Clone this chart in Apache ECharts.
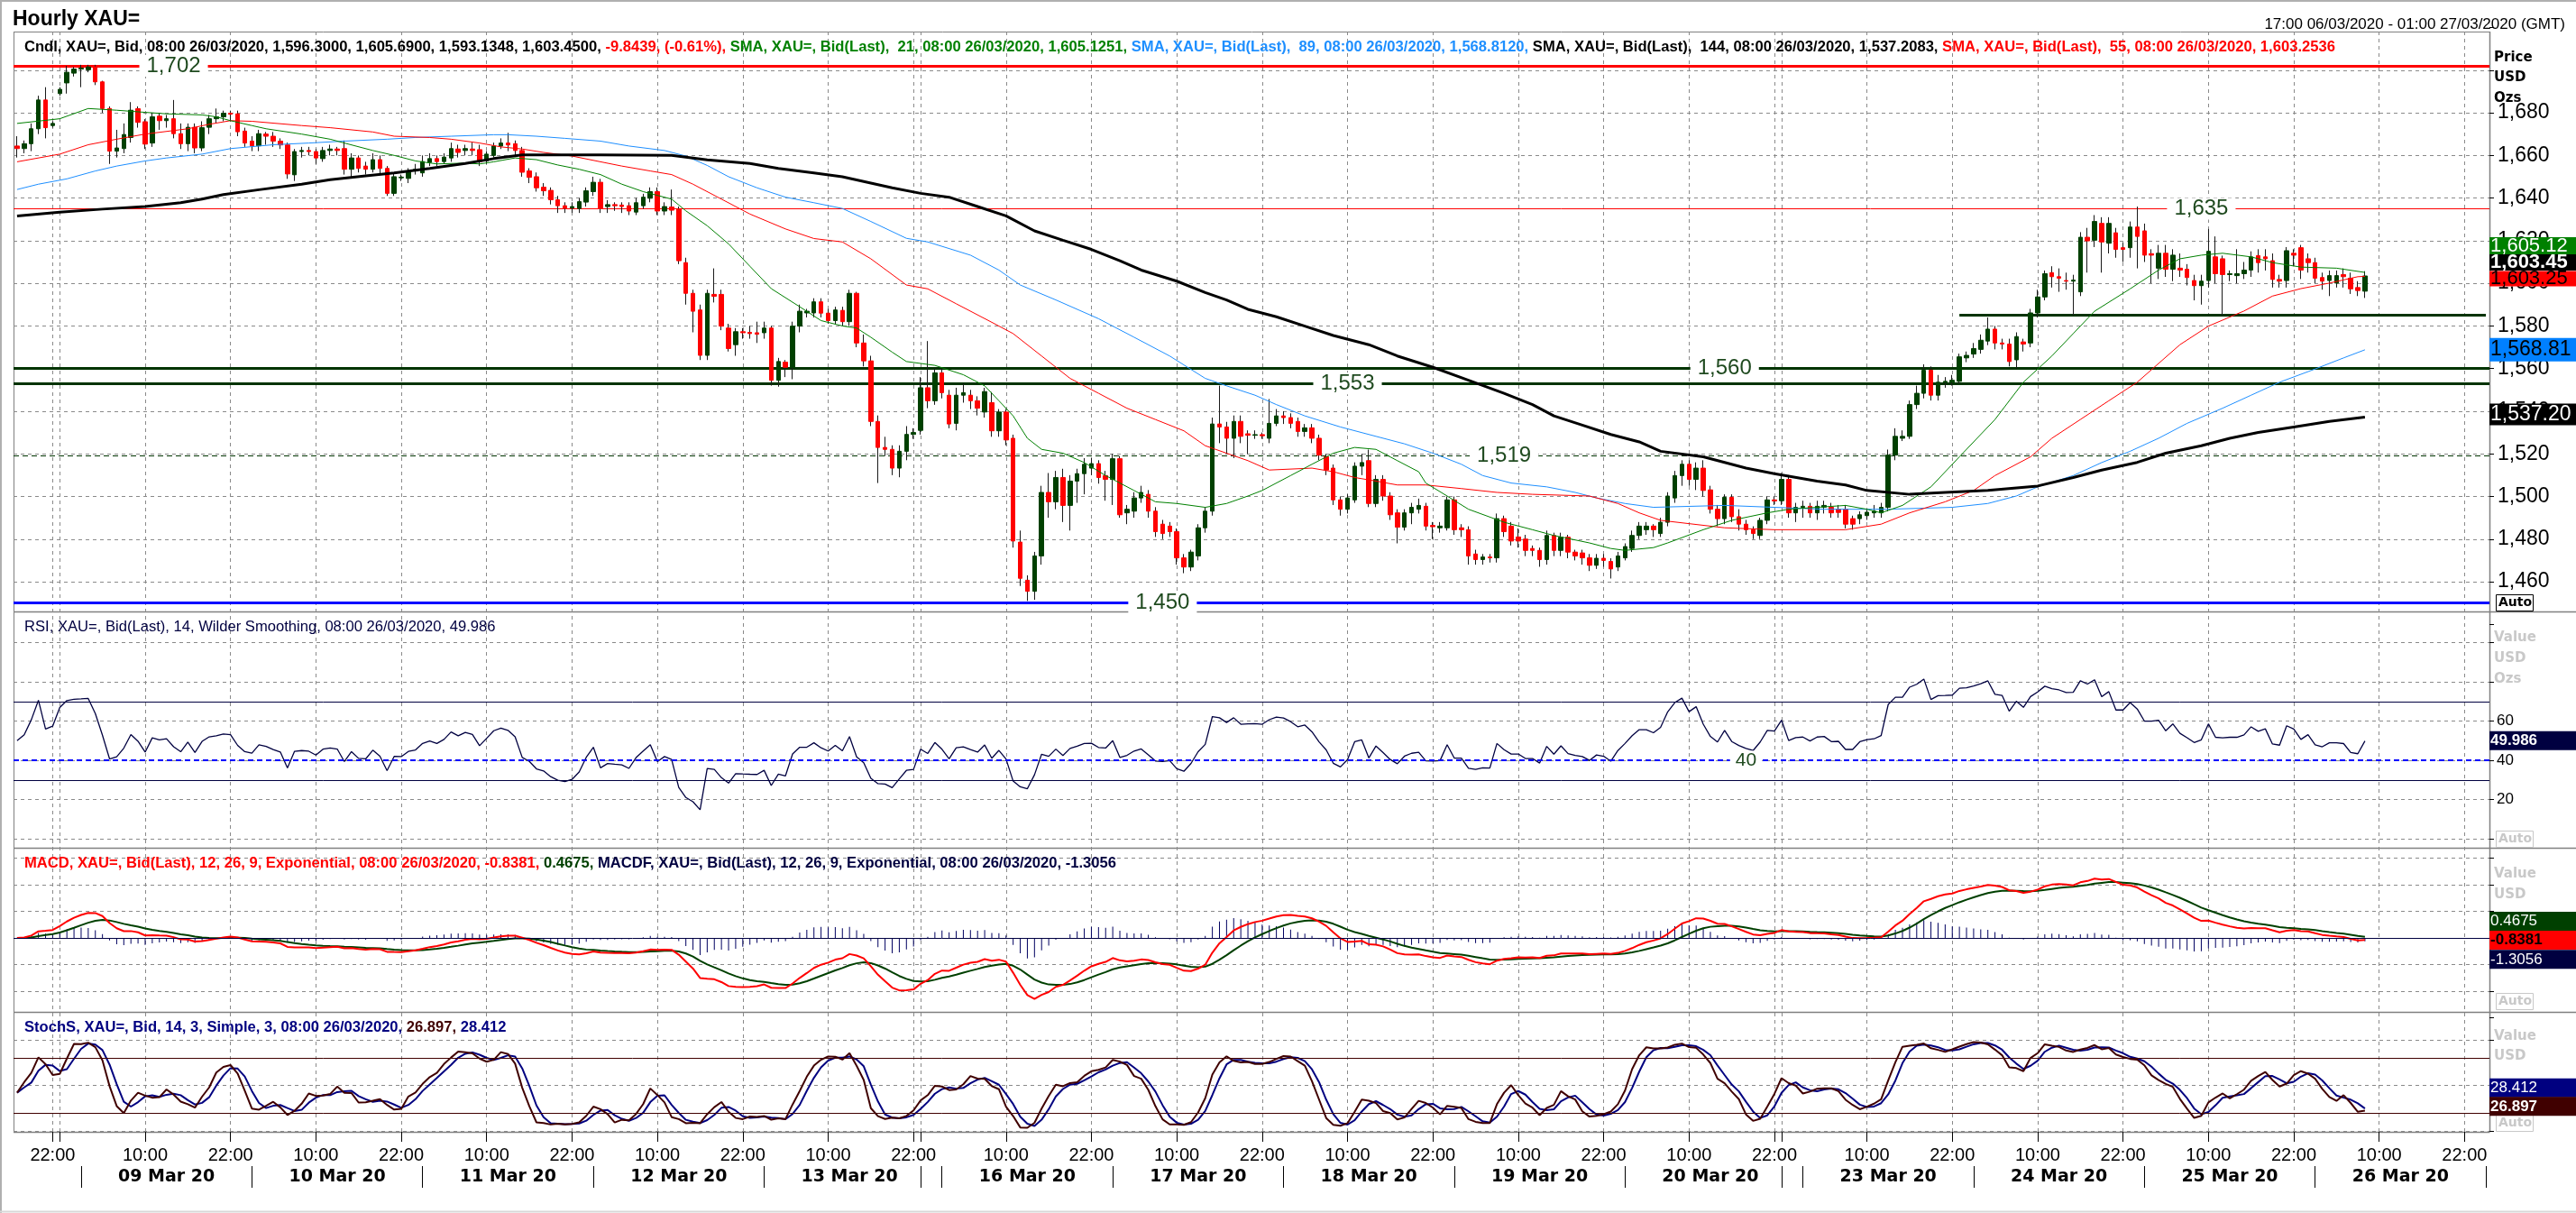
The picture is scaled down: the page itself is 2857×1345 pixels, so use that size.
<!DOCTYPE html>
<html><head><meta charset="utf-8">
<script src="https://cdn.jsdelivr.net/npm/echarts@6/dist/echarts.min.js"></script>
<style>html,body{margin:0;padding:0;background:#fff}#c{width:2857px;height:1345px}</style>
</head><body><div id="c"></div><script>
// ---------- axis categories (hourly bars, trading sessions) ----------
const sessions = [
 ['06/03',17,22],['08/03',22,23],['09/03',0,23],['10/03',0,23],['11/03',0,23],['12/03',0,23],['13/03',0,22],
 ['15/03',22,23],['16/03',0,23],['17/03',0,23],['18/03',0,23],['19/03',0,23],['20/03',0,22],
 ['22/03',22,23],['23/03',0,23],['24/03',0,23],['25/03',0,23],['26/03',0,23],['27/03',0,1]
];
const sundays = ['08/03','15/03','22/03'];
const labelDays = ['09/03','10/03','11/03','12/03','13/03','16/03','17/03','18/03','19/03','20/03','23/03','24/03','25/03','26/03'];
const sundaySeparators = ['15/03','22/03'];
const timeTickHours = [10,22];

// ---------- candle data (hourly, 17:00 06/03 -> 08:00 26/03) ----------
const opens = [1664.4,1663.2,1665.5,1672.5,1686,1674,1689,1694,1698.6,1700.5,
1700.2,1701.5,1694.5,1682,1662,1663.2,1668.4,1681.9,1675.8,1665.8,
1678.4,1676.3,1677.2,1670.2,1665.5,1673.2,1663.5,1673.2,1677.2,1678.1,
1679.8,1679.5,1671.4,1666.7,1664.5,1670,1669,1666.7,1664.9,1650.9,
1661.8,1662.3,1661.8,1658.5,1662.3,1663,1663.2,1653.5,1658.8,1655,
1653.5,1658,1653.9,1642.2,1649.5,1649.2,1652.7,1651.8,1656.7,1658.5,
1657.1,1658.8,1663,1662.3,1663,1662.7,1657.4,1660,1664.4,1665.8,
1665.5,1662.3,1652.7,1650,1645.1,1643.6,1639.2,1636.4,1635.3,1635.1,
1638.1,1643,1647.4,1636,1636.9,1636.7,1636.4,1633.4,1636.4,1639.9,
1643,1633.9,1635.8,1634.8,1609.7,1595.3,1587.5,1566.2,1594.8,1594.8,
1579,1571.2,1577.3,1577,1576.8,1576.8,1579,1554.5,1563,1560.6,
1579.9,1586.1,1586.1,1591.3,1586,1582.5,1587.3,1582,1595.3,1572,
1563.6,1535.2,1523,1522.1,1513.3,1521.2,1529.1,1531,1551,1544.9,
1558,1547.5,1534.3,1547.5,1547.5,1544.9,1539.6,1544,1530.8,1539.6,
1527.3,1478.6,1460.7,1455.5,1472.1,1501.9,1497.5,1508.9,1495.8,1507.2,
1510.7,1513.3,1515.4,1509.8,1508,1517.7,1492.3,1493.1,1499.3,1501,
1493.1,1487,1486.1,1483.5,1471.2,1466.9,1472.1,1485.3,1493.1,1534,
1532.6,1527.3,1535.2,1529.4,1528.7,1529,1527.3,1534.3,1537.8,1537,
1535.2,1530.5,1532.2,1527.3,1518.6,1513.3,1498.4,1494,1498.4,1514.2,
1516.8,1496.7,1508,1500.2,1492.3,1485.6,1492.3,1494,1495.4,1486.4,
1485.3,1485.3,1498.4,1485.3,1484.4,1473,1470.4,1471.6,1471.2,1489.6,
1486.1,1481,1480,1475.6,1474.7,1470.4,1481.7,1474.7,1480.9,1473.9,
1473.5,1471.2,1467.7,1471,1469.5,1466.9,1471.2,1475.6,1481.7,1484.4,
1486.1,1482.6,1487.9,1499.3,1509.8,1515.1,1508,1513.3,1503.1,1494,
1489.6,1499.6,1490.5,1487,1484.4,1481.7,1488.8,1498.4,1498,1508,
1492.3,1494.9,1495.4,1492.3,1495,1494.9,1494,1494,1489.6,1489.6,
1491,1492.3,1492.3,1494.9,1519.4,1527.3,1528.2,1543.1,1548.4,1559.2,
1547.5,1553.6,1553.6,1554,1565,1566.8,1569,1572.9,1578.5,1572,
1571.5,1564.1,1572.5,1572,1586.1,1593.6,1605,1603.1,1601.3,1601,
1596,1621.6,1620.2,1628.1,1618.8,1623.7,1616.7,1616.7,1626.4,1624.6,
1613.9,1607.1,1614.1,1606.6,1607.1,1606.6,1601.3,1598.9,1601.3,1612.4,
1611.5,1604.1,1603.6,1604.5,1606.2,1613,1612.4,1610.6,1601.8,1601.3,
1614.1,1616.7,1611.5,1609.7,1602.7,1601.3,1600.1,1604.1,1602.4,1598,
1596.3];
const closes = [1663.2,1665.5,1672.5,1686,1673,1675,1691,1699,1700.5,1701,
1701.5,1694.5,1682,1662,1663.5,1669.8,1681.2,1675.5,1665.3,1678.1,
1676.3,1677.2,1670.2,1665.5,1673.2,1663.5,1673,1677.2,1678.1,1679.8,
1679.3,1671.1,1665.8,1664.5,1670.2,1669,1666.7,1664.9,1651.3,1661.8,
1662.3,1661.8,1658.8,1662.3,1663,1662.3,1653.5,1658.8,1653.9,1653.5,
1658,1653.9,1642.2,1650,1649.8,1652.7,1653.5,1657.1,1658.5,1657.1,
1659.2,1663.2,1661.4,1663.2,1662.3,1657.1,1660.6,1664.4,1665.8,1664.9,
1662.3,1652.1,1649.7,1644.8,1643.4,1639.2,1636.4,1635.3,1636,1638.3,
1643.4,1647.4,1635.1,1636.9,1636.4,1636,1633.9,1637.8,1640.4,1643,
1633.9,1636,1634.3,1610.6,1595.3,1586.9,1566.2,1595.3,1593.9,1579.9,
1569.4,1577.3,1576.8,1576.4,1576.1,1579,1554.5,1563.3,1560.6,1579.9,
1586.9,1586.9,1591.3,1586,1582.5,1587.5,1582,1595.3,1572,1563.6,
1535.2,1523,1522.1,1513.3,1521.2,1529.1,1530,1551,1544.9,1558,
1548.7,1534,1547.5,1548.7,1544.9,1541.4,1549.2,1530.8,1539.6,1526.5,
1479.1,1461.6,1455.5,1472.1,1501.9,1497.5,1508.9,1495.8,1507.2,1510.7,
1515.1,1515.4,1508.9,1508,1517.7,1491.4,1494,1499.3,1501.9,1493.1,
1483.5,1482.6,1483.5,1471.2,1466.9,1473.9,1485.3,1493.1,1534,1532.6,
1527.3,1535.2,1528.2,1528.7,1529,1528.5,1534.3,1537.8,1537,1534.3,
1530.5,1532.2,1527.3,1519.4,1512.4,1498.4,1494,1499.3,1514.2,1515.9,
1496.7,1508,1500.2,1491.4,1485.6,1492.3,1494.9,1495.8,1486.1,1485.8,
1486.1,1498.4,1484.4,1484.4,1472.1,1470.4,1471.6,1471.2,1489.6,1483.5,
1479.1,1479.1,1474.7,1474.7,1470.4,1481.7,1474.7,1480.9,1473.9,1472.1,
1471.2,1467.7,1471,1470,1466,1472.1,1476.5,1481.7,1486.1,1486.1,
1484.4,1487.9,1500.2,1509.8,1515.1,1508,1513.3,1502.8,1494,1489.6,
1499.6,1490.5,1487,1484.4,1482.6,1488.8,1498.4,1497.9,1508,1492.3,
1494.9,1495.4,1492.3,1495.4,1495.8,1492.3,1492.5,1487,1487,1491.4,
1492.6,1493.1,1494.9,1519.4,1528.2,1528.2,1543.1,1548.4,1559.2,1547.5,
1553.6,1554,1554.5,1565.5,1566.2,1569.4,1573.3,1578.5,1572,1571.5,
1563.3,1575,1571.5,1586.1,1593.6,1604.5,1603.1,1602.4,1601,1601.5,
1621.6,1619.9,1629,1619.4,1628.1,1615.9,1615.9,1626.4,1622,1613.2,
1613.2,1614.1,1606.6,1613.2,1606.2,1602.7,1598.9,1601,1615,1604.5,
1604.1,1604.5,1604.5,1606.2,1612.4,1609.7,1611.5,1601.8,1601,1615.3,
1613.2,1606.2,1609.7,1602.4,1601,1603.6,1603.6,1603.1,1597.4,1596.6,
1603.45];
const lows = [1659,1661,1662,1670,1668,1673,1688,1689,1697,1692,
1699,1693,1680,1656,1659,1661,1666,1673,1663,1664,
1672,1673,1668,1663,1662,1661,1662,1670,1675,1676,
1676,1669,1664,1662,1662,1665,1664,1663,1649,1648,
1659,1660,1656,1657,1660,1660,1651,1650,1652,1651,
1652,1651,1641,1641,1648,1647,1651,1650,1655,1655,
1656,1657,1659,1660,1660,1655,1656,1659,1663,1662,
1660,1650,1647,1643,1641,1637,1633,1633,1633,1633,
1636,1641,1633,1633,1634,1633,1632,1632,1635,1638,
1632,1632,1632,1609,1590,1577,1564,1564,1591,1578,
1568,1566,1574,1574,1572,1574,1552,1551.5,1556,1555,
1577,1584,1584,1584,1581,1581,1580,1580,1570,1561,
1533,1506.3,1519,1510,1509,1517,1527,1529,1541.4,1543,
1546,1532,1531,1544,1541,1538,1537,1528,1528,1524,
1476,1458,1451,1451.5,1468,1490,1494,1488,1484,1497,
1501,1510,1506,1498,1496,1490,1487,1490,1497,1490,
1481,1480,1481,1468,1464,1465,1470,1483,1491,1525,
1520,1518,1525,1520,1527,1527,1525,1533,1534,1532,
1528,1528,1525,1517,1510,1496,1491,1492,1497,1510,
1495,1495,1498,1489,1478,1484,1487,1492,1484,1480,
1483,1484,1482,1481,1468,1468,1468,1469,1469,1481,
1477,1476,1472,1472,1467,1468,1472,1472,1471,1470,
1468,1465,1466,1467,1461.5,1465,1470,1474,1480,1482,
1481,1481,1486,1497,1505,1505,1503,1500,1492,1486,
1487,1488,1484,1482,1480,1480,1487,1496,1496,1490,
1488,1490,1490,1489,1492,1490,1490,1485,1484.4,1487,
1489,1490,1490,1493,1517,1526,1527,1541,1546,1545,
1545,1551,1552,1553,1563,1565,1567,1571,1569,1569,
1561,1560,1568,1570,1584,1592,1598,1596,1597,1585,
1594,1605,1617,1605,1614,1612,1610,1612,1607,1610,
1600,1602,1603,1601,1603,1599,1592,1590,1598,1600,
1585,1601,1600,1602,1603,1605,1606,1598,1598,1598,
1608,1602,1605,1600,1597,1594,1598,1598,1595,1594,
1593.13];
const highs = [1669,1667,1675,1688,1692,1676,1692,1702,1701.5,1702.5,
1702.5,1702.5,1695,1683,1672,1675,1685,1683,1677,1680,
1680,1679,1686,1675,1675,1675,1676,1679,1682,1681,
1681,1681,1673,1669,1672,1671,1671,1668,1666,1663,
1664,1664,1663,1664,1665,1664,1667,1661,1660,1657,
1661,1660,1655,1652,1651,1654,1656,1660,1661,1660,
1661,1666,1665,1665,1666,1665,1662,1666,1668,1670.6,
1667,1664,1654,1652,1647,1645,1641,1638,1638,1640,
1645,1650,1649,1639,1638,1638,1638,1640,1642,1645,
1645,1638,1644,1636,1612,1597,1590,1597,1607,1597,
1581,1579,1579,1580,1582,1582,1580,1565,1564,1582,
1590,1588,1593,1593,1588,1589,1589,1597,1596,1576,
1566,1538,1528,1524,1524,1533,1532,1556,1572.9,1560,
1560,1550,1551,1553,1550,1547,1551,1549,1541,1541,
1529,1484,1463,1474,1505,1511,1512,1513,1510,1513,
1518,1518,1517,1512,1520,1519,1496,1502,1505,1503,
1495,1489,1488,1485,1473,1475,1487,1495,1537,1552,
1535,1538,1538,1531,1531,1530,1545.7,1541,1540,1539,
1537,1534,1534,1529,1520,1515,1500,1501,1516,1520,
1522,1510,1510,1502,1494,1494,1497,1499,1497,1488,
1488,1500,1500,1487,1486,1475,1473,1473,1492,1491,
1488,1485,1482,1477,1476,1484,1483,1483,1482,1475,
1475,1473,1473,1473,1471,1474,1478,1484,1488,1488,
1487,1490,1502,1512,1517,1517,1516,1517,1505,1496,
1501,1501,1494,1489,1486,1490,1500,1500,1511,1510,
1497,1498,1497,1498,1498,1497,1496,1496,1491,1493,
1494,1496,1497,1522,1532,1531,1545,1552,1562,1561,
1557,1556,1557,1567,1568,1572,1576,1584,1580,1574,
1574,1577,1574,1588,1597,1606,1608,1607,1605,1604,
1624,1626,1632,1631,1631,1626,1619,1629,1636,1628,
1616,1618,1618,1616,1614,1609,1604,1604,1625.5,1622,
1613,1606,1616,1610,1615,1616,1616,1614,1604,1617,
1616,1618,1614,1612,1605,1606,1606,1607,1605,1601,
1605.69];

// ---------- moving averages: [bar index, value] ----------
const sma21 = [[0,1675],[6,1677.2],[10,1682],[14,1681.2],[18,1680.2],[21,1679.5],[26,1679],[28,1678.1],[30,1676.3],[33,1674],[35,1672.5],[40,1670],[44,1667.6],[46,1665.8],[50,1662.3],[53,1660],[56,1657.4],[59,1656],[63,1656.4],[65,1656],[67,1657],[70,1658.8],[73,1658],[76,1655.5],[79,1653.5],[82,1651],[85,1646.5],[88,1643],[92,1639.5],[94,1634],[97,1627],[100,1618.5],[103,1608],[106,1597.5],[110,1589],[113,1582.5],[116,1580],[118,1579],[120,1574.7],[123,1567.7],[125,1563.3],[129,1561.5],[133,1557.1],[136,1551.9],[138,1544.9],[140,1537.8],[142,1527.3],[144,1522.1],[147,1520.3],[150,1515.9],[153,1509.8],[157,1502.8],[160,1497.5],[163,1496.7],[167,1494.9],[170,1496.7],[173,1500.2],[175,1502.8],[179,1509.8],[182,1515.1],[185,1520.3],[188,1523],[191,1522.1],[194,1516.8],[197,1511.6],[198,1506.3],[201,1500.2],[204,1494],[209,1487.9],[213,1484.4],[216,1481.7],[221,1478.2],[224,1475.6],[226,1474.7],[230,1476],[232,1478.2],[237,1484.4],[241,1488.8],[246,1492.3],[249,1494],[253,1494.9],[257,1495.8],[260,1494],[262,1492.3],[265,1495.8],[269,1504.5],[273,1518.6],[278,1536.1],[282,1553.6],[286,1565.9],[289,1576.4],[292,1586.9],[297,1597.4],[301,1606.2],[304,1611.5],[307,1613.2],[310,1614.1],[314,1612.4],[317,1609.7],[321,1607.6],[326,1607.1],[330,1605.1]];
const sma55 = [[0,1657],[6,1660.6],[10,1665],[14,1667.6],[18,1670],[24,1672.5],[27,1674.6],[30,1676.3],[33,1676],[40,1674],[44,1673],[50,1671],[53,1669],[58,1668.4],[61,1667.6],[65,1665.8],[68,1664],[71,1663],[74,1661.4],[78,1659.7],[82,1657],[85,1655],[89,1652.7],[92,1651],[95,1646.5],[99,1639.5],[103,1632.5],[108,1625.5],[112,1621],[116,1619.4],[120,1611.5],[125,1599.2],[128,1597.4],[132,1590.4],[137,1581.7],[140,1576.4],[144,1565.9],[148,1555.4],[152,1548.4],[156,1541.4],[160,1536.1],[164,1530.8],[167,1523.8],[170,1520.3],[173,1516.8],[176,1512.4],[182,1513.3],[185,1511.6],[188,1508.9],[191,1507.2],[194,1505.4],[198,1505.4],[203,1503.7],[208,1501.9],[213,1501],[221,1500.2],[225,1496.7],[228,1492.3],[231,1488.8],[240,1485.3],[247,1484.4],[257,1484.4],[262,1487],[266,1492.3],[271,1497.5],[275,1502.8],[278,1509.8],[283,1518.6],[286,1527.3],[290,1536.1],[294,1544.9],[298,1553.6],[301,1562.4],[304,1571.2],[308,1579.9],[313,1587],[317,1594],[321,1597.5],[325,1600.1],[329,1603.1],[330,1603.25]];
const sma89 = [[0,1644],[3,1646.5],[7,1649],[11,1652.7],[14,1655],[18,1657.4],[21,1658.8],[26,1660.6],[30,1663.2],[36,1665],[41,1665.8],[46,1666.7],[52,1667.6],[56,1668.4],[61,1669],[67,1669.7],[69,1669.7],[73,1669],[77,1668],[82,1666.7],[86,1664.4],[91,1662.3],[94,1659.7],[97,1655.3],[100,1650],[104,1644.8],[108,1640.4],[112,1637.8],[116,1635.1],[120,1629],[125,1621.1],[128,1619.4],[134,1613.2],[138,1606.2],[141,1599.2],[146,1592.2],[152,1583.4],[157,1574.7],[162,1565.9],[167,1555.4],[170,1551.9],[174,1547.5],[177,1543.1],[181,1537.8],[186,1532.6],[191,1528.2],[195,1524.7],[199,1520.3],[203,1515.1],[206,1509.8],[210,1506.3],[215,1504.5],[219,1501.9],[222,1499.3],[226,1496.7],[230,1494.9],[240,1495.8],[247,1494.9],[254,1494],[263,1494],[272,1494.9],[277,1496.7],[281,1500.2],[284,1504.5],[289,1509.8],[293,1515.9],[297,1521.2],[301,1527.3],[305,1534.3],[310,1541.4],[314,1547.5],[318,1553.6],[323,1559.8],[327,1565],[330,1568.81]];
const sma144 = [[0,1631.6],[6,1633.4],[12,1634.8],[18,1636],[23,1637.8],[26,1639.5],[29,1641.6],[34,1643.9],[40,1646.5],[44,1648.6],[49,1650.4],[53,1651.8],[58,1653.9],[63,1656.2],[67,1658.5],[71,1660.2],[82,1660.2],[92,1660],[97,1657.9],[103,1656.2],[107,1653.9],[112,1651.8],[116,1650],[123,1644.8],[127,1642.2],[131,1640.4],[135,1636],[139,1631.6],[143,1624.6],[147,1620.2],[151,1615.9],[155,1610.6],[158,1606.2],[163,1601],[167,1595.7],[170,1592.2],[173,1587.8],[177,1584.3],[181,1579.9],[185,1575.5],[190,1571.2],[194,1565.9],[199,1560.6],[204,1554.5],[209,1548.4],[213,1543.1],[216,1537.8],[220,1533.5],[224,1529.1],[228,1525.6],[231,1521.2],[237,1518.6],[243,1513.3],[247,1510.7],[253,1507.2],[257,1505.4],[260,1502.8],[266,1501],[271,1501.9],[277,1502.8],[284,1504.9],[289,1508.9],[293,1512.4],[298,1516],[302,1520.3],[307,1523.8],[311,1527.3],[315,1530],[320,1532.6],[325,1535.2],[330,1537.2]];

// ---------- horizontal levels ----------
const levelRed = [1702, 1635];
const levelGreen = [1560, 1553];
const levelDashed = [1519];
const levelBlue = [1450];
const supportLevel = 1585;
const levelLabels = ['1,702','1,635','1,560','1,553','1,519','1,450'];

// ---------- last values shown in the axis boxes ----------
const lastSma21 = 1605.12, lastClose = 1603.45, lastSma55 = 1603.25, lastSma89 = 1568.81, lastSma144 = 1537.20;
const lastRsi = 49.986, lastSignal = 0.4675, lastMacd = -0.8381, lastHist = -1.3056, lastStochD = 28.412, lastStochK = 26.897;
const rsiLevels = [70, 30], rsiMid = 40, stochLevels = [80, 20];
const rsiSeed = {gain: 1.4, loss: 1.4}; // RSI state at the left edge (~50 in the picture)

// ---------- build categories ----------
const cats = [], catDay = [], catHour = [];
sessions.forEach(([d,h0,h1]) => { for (let h=h0; h<=h1; h++){ cats.push(d+' '+String(h).padStart(2,'0')+':00'); catDay.push(d); catHour.push(h);} });
const isTimeTick = i => timeTickHours.includes(catHour[i]);
const isTimeLbl = i => isTimeTick(i) && !sundays.includes(catDay[i]);
const isSep = i => (catHour[i]===1) || (catHour[i]===22 && sundaySeparators.includes(catDay[i]));
const isDateLbl = i => catHour[i]===13 && labelDays.includes(catDay[i]);

// ---------- indicators from the candles ----------
function ema(src,n){const k=2/(n+1);const out=[];let e=src[0];src.forEach((v,i)=>{e=i===0?v:v*k+e*(1-k);out.push(e);});return out;}
const e12=ema(closes,12), e26=ema(closes,26);
const macd = closes.map((_,i)=>e12[i]-e26[i]);
const signal = ema(macd,9);
const hist = macd.map((v,i)=>v-signal[i]);
let ag=rsiSeed.gain, al=rsiSeed.loss; const rsi=[100-100/(1+ag/al)];
for(let i=1;i<closes.length;i++){const d=closes[i]-closes[i-1];ag=(ag*13+Math.max(d,0))/14;al=(al*13+Math.max(-d,0))/14;rsi.push(100-100/(1+ag/al));}
const rawK = closes.map((c,i)=>{const s=Math.max(0,i-13);const hh=Math.max(...highs.slice(s,i+1));const ll=Math.min(...lows.slice(s,i+1));return hh===ll?50:100*(c-ll)/(hh-ll);});
const smaA=(a,n)=>a.map((_,i)=>{const s=Math.max(0,i-n+1);const w=a.slice(s,i+1);return w.reduce((x,y)=>x+y,0)/w.length;});
const stochK = smaA(rawK,3), stochD = smaA(stochK,3);

// wicks (full range) and bodies (open/close range) are drawn as two candlestick layers
const wickData = opens.map((o,i)=>[o, closes[i], lows[i], highs[i]]);
const bodyData = opens.map((o,i)=>[o, closes[i], Math.min(o,closes[i]), Math.max(o,closes[i])]);
const fmt = v => v.toLocaleString('en-US');
const fmt2 = v => v.toLocaleString('en-US',{minimumFractionDigits:2,maximumFractionDigits:2});

const FONT = '"Liberation Sans", Arial, sans-serif';
const BOLDF = '"DejaVu Sans", Verdana, sans-serif';
const LFS = 16.6;
const GRID_L = 15, GRID_R = 96;
const lastCat = cats[cats.length-1];
const DG = '#1f4a1f';
const gridDash = {color:'#8a8a8a', type:[4,4], width:1};

function box(value, text, bg, fg, bold, fs, dy, h){
  return {coord:[lastCat, value], symbol:'rect', symbolSize:[96, h], symbolOffset:[52, dy],
    itemStyle:{color:bg}, label:{show:true, position:'insideLeft', distance:1, formatter:text, color:fg,
    fontFamily:FONT, fontSize:fs, fontWeight:bold?'bold':'normal'}};
}
function lvlLabel(idx, value, text){
  return {coord:[cats[idx], value], symbol:'rect', symbolSize:[1,1], itemStyle:{color:'rgba(0,0,0,0)'},
    label:{show:true, position:'inside', formatter:text, color:DG, fontFamily:FONT, fontSize:24,
    backgroundColor:'#fff', padding:[0,8]}};
}
const hiddenX = gi => ({type:'category', gridIndex:gi, data:cats, boundaryGap:true, show:false});
const rs = c => ({color:c, fontFamily:FONT, fontSize:LFS});

const option = {
  animation:false,
  backgroundColor:'#fff',
  title:[
    {text:'Hourly XAU=', left:9, top:5, textStyle:{fontFamily:FONT, fontSize:23, fontWeight:'bold', color:'#000'}},
    {text:'17:00 06/03/2020 - 01:00 27/03/2020 (GMT)', right:7, top:14, textStyle:{fontFamily:FONT, fontSize:17, fontWeight:'normal', color:'#000'}},
    {text:'{k|Cndl, XAU=, Bid, 08:00 26/03/2020, 1,596.3000, 1,605.6900, 1,593.1348, 1,603.4500, }{r|-9.8439, (-0.61%), }{g|SMA, XAU=, Bid(Last),  21, 08:00 26/03/2020, 1,605.1251, }{b|SMA, XAU=, Bid(Last),  89, 08:00 26/03/2020, 1,568.8120, }{k|SMA, XAU=, Bid(Last),  144, 08:00 26/03/2020, 1,537.2083, }{r|SMA, XAU=, Bid(Last),  55, 08:00 26/03/2020, 1,603.2536}',
     left:22, top:39, z:20,
     textStyle:{fontFamily:FONT, fontSize:LFS, rich:{k:rs('#000'),r:rs('#ff0000'),g:rs('#008000'),b:rs('#1e8fff')}}},
    {text:'RSI, XAU=, Bid(Last), 14, Wilder Smoothing, 08:00 26/03/2020, 49.986', left:22, top:682, textStyle:{fontFamily:FONT, fontSize:LFS, fontWeight:'normal', color:'#000040'}},
    {text:'{r|MACD, XAU=, Bid(Last), 12, 26, 9, Exponential, 08:00 26/03/2020, -0.8381, }{g|0.4675, }{n|MACDF, XAU=, Bid(Last), 12, 26, 9, Exponential, 08:00 26/03/2020, -1.3056}', left:22, top:944,
     textStyle:{fontFamily:FONT, fontSize:LFS, rich:{r:rs('#ff0000'),g:rs('#004000'),n:rs('#000040')}}},
    {text:'{n|StochS, XAU=, Bid, 14, 3, Simple, 3, 08:00 26/03/2020, }{m|26.897, }{n|28.412}', left:22, top:1126,
     textStyle:{fontFamily:FONT, fontSize:LFS, rich:{n:rs('#000080'),m:rs('#400000')}}}
  ],
  grid:[
    {left:GRID_L, right:GRID_R, top:30.5, height:661.8},
    {left:GRID_L, right:GRID_R, top:712.5, height:217.5},
    {left:GRID_L, right:GRID_R, top:951.5, height:177},
    {left:GRID_L, right:GRID_R, top:1153, height:101},
    {left:GRID_L, right:GRID_R, top:35, height:1220}
  ],
  xAxis:[
    hiddenX(0), hiddenX(1), hiddenX(2), hiddenX(3),
    {type:'category', gridIndex:4, data:cats, boundaryGap:true, position:'bottom',
     axisLine:{show:false},
     axisTick:{show:true, alignWithLabel:true, length:11, interval:(i)=>isTimeTick(i), lineStyle:{color:'#000'}},
     axisLabel:{show:true, interval:(i)=>isTimeLbl(i), formatter:v=>v.slice(6), color:'#000', fontFamily:FONT, fontSize:20, margin:16},
     splitLine:{show:true, alignWithLabel:true, interval:(i)=>isTimeTick(i), lineStyle:gridDash}},
    {type:'category', gridIndex:4, data:cats, boundaryGap:true, position:'bottom', offset:38,
     axisLine:{show:false},
     axisTick:{show:true, alignWithLabel:true, length:24, interval:(i)=>isSep(i), lineStyle:{color:'#000'}},
     axisLabel:{show:true, interval:(i)=>isDateLbl(i), formatter:v=>v.slice(0,2)+' Mar 20', color:'#000', fontFamily:BOLDF, fontSize:19, fontWeight:'bold', margin:3},
     splitLine:{show:false}}
  ],
  yAxis:[
    {type:'value', gridIndex:0, position:'right', min:1440, max:1720, interval:20,
     axisLine:{show:false}, axisTick:{show:true, length:5, lineStyle:{color:'#000'}},
     axisLabel:{color:'#000', fontFamily:FONT, fontSize:23, margin:9, formatter:v=>(v>=1460&&v<=1680)?fmt(v):''},
     splitLine:{show:true, showMinLine:false, showMaxLine:false, lineStyle:gridDash}},
    {type:'value', gridIndex:1, position:'right', min:0, max:100, interval:20,
     axisLine:{show:false}, axisTick:{show:true, length:5, lineStyle:{color:'#000'}},
     axisLabel:{color:'#000', fontFamily:FONT, fontSize:17, margin:8, formatter:v=>(v>=20&&v<=60)?String(v):''},
     splitLine:{show:true, lineStyle:gridDash}},
    {type:'value', gridIndex:2, position:'right', min:-30, max:30, interval:10,
     axisLine:{show:false}, axisTick:{show:true, length:5, lineStyle:{color:'#000'}},
     axisLabel:{show:false},
     splitLine:{show:true, showMinLine:false, lineStyle:gridDash}},
    {type:'value', gridIndex:3, position:'right', min:0, max:100, interval:50,
     axisLine:{show:false}, axisTick:{show:true, length:5, lineStyle:{color:'#000'}},
     axisLabel:{show:false},
     splitLine:{show:true, lineStyle:gridDash}},
    {type:'value', gridIndex:4, show:false, min:0, max:1}
  ],
  series:[
    {name:'Wicks', type:'candlestick', xAxisIndex:0, yAxisIndex:0, data:wickData, barWidth:1, z:2,
     itemStyle:{color:'#1a1a1a', color0:'#1a1a1a', borderColor:'#1a1a1a', borderColor0:'#1a1a1a', borderWidth:1},
     markLine:{symbol:'none', silent:true, label:{show:false}, z:1,
       data:[
         {yAxis:levelRed[0], lineStyle:{color:'#ff0000', width:3, type:'solid'}},
         {yAxis:levelRed[1], lineStyle:{color:'#ff0000', width:1, type:'solid'}},
         {yAxis:levelGreen[0], lineStyle:{color:'#003300', width:3, type:'solid'}},
         {yAxis:levelGreen[1], lineStyle:{color:'#003300', width:3, type:'solid'}},
         {yAxis:levelDashed[0], lineStyle:{color:'#003300', width:1, type:[6,4]}},
         {yAxis:levelBlue[0], lineStyle:{color:'#0000ff', width:3, type:'solid'}},
         [{coord:[cats[273], supportLevel], lineStyle:{color:'#003300', width:3, type:'solid'}}, {coord:[lastCat, supportLevel]}]
       ]}},
    {name:'Cndl', type:'candlestick', xAxisIndex:0, yAxisIndex:0, data:bodyData, barWidth:5, z:2,
     itemStyle:{color:'#004000', color0:'#ff0000', borderColor:'#004000', borderColor0:'#ff0000', borderWidth:1},
     markPoint:{silent:true, z:10, data:[
       lvlLabel(22, levelRed[0], levelLabels[0]),
       lvlLabel(307, levelRed[1], levelLabels[1]),
       lvlLabel(240, levelGreen[0], levelLabels[2]),
       lvlLabel(187, levelGreen[1], levelLabels[3]),
       lvlLabel(209, levelDashed[0], levelLabels[4]),
       lvlLabel(161, levelBlue[0], levelLabels[5]),
       box(lastClose, fmt2(lastClose), '#000', '#fff', true, 22, -15, 18)
     ]}},
    {name:'SMA89', type:'line', xAxisIndex:0, yAxisIndex:0, data:sma89, showSymbol:false, z:3, lineStyle:{color:'#1e8fff', width:1},
     markPoint:{silent:true, z:10, data:[box(lastSma89, fmt2(lastSma89), '#0080ff', '#000', false, 23, 0, 26)]}},
    {name:'SMA55', type:'line', xAxisIndex:0, yAxisIndex:0, data:sma55, showSymbol:false, z:3, lineStyle:{color:'#ff0000', width:1},
     markPoint:{silent:true, z:12, data:[box(lastSma55, fmt2(lastSma55), '#ff0000', '#000', false, 22, 2.5, 17)]}},
    {name:'SMA21', type:'line', xAxisIndex:0, yAxisIndex:0, data:sma21, showSymbol:false, z:3, lineStyle:{color:'#008000', width:1},
     markPoint:{silent:true, z:10, data:[box(lastSma21, fmt2(lastSma21), '#008000', '#fff', false, 22, -29.5, 19)]}},
    {name:'SMA144', type:'line', xAxisIndex:0, yAxisIndex:0, data:sma144, showSymbol:false, z:4, lineStyle:{color:'#000', width:3},
     markPoint:{silent:true, z:10, data:[box(lastSma144, fmt2(lastSma144), '#000', '#fff', false, 23, -3, 24)]}},
    {name:'RSI', type:'line', xAxisIndex:1, yAxisIndex:1, data:rsi, showSymbol:false, lineStyle:{color:'#000040', width:1.3},
     markLine:{symbol:'none', silent:true, label:{show:false}, data:[
       {yAxis:rsiLevels[0], lineStyle:{color:'#000040', width:1, type:'solid'}},
       {yAxis:rsiLevels[1], lineStyle:{color:'#000040', width:1, type:'solid'}},
       {yAxis:rsiMid, lineStyle:{color:'#0000ff', width:2, type:[6,4]}}]},
     markPoint:{silent:true, data:[
       {coord:[cats[243], rsiMid], symbol:'rect', symbolSize:[1,1], itemStyle:{color:'rgba(0,0,0,0)'}, label:{show:true, position:'inside', formatter:String(rsiMid), color:DG, fontFamily:FONT, fontSize:21, backgroundColor:'#fff', padding:[0,6]}},
       box(lastRsi, '49.986', '#000040', '#fff', true, 17, 0, 21)]}},
    {name:'MACDF', type:'bar', xAxisIndex:2, yAxisIndex:2, data:hist, barWidth:1, itemStyle:{color:'#000060'},
     markLine:{symbol:'none', silent:true, label:{show:false}, data:[{yAxis:0, lineStyle:{color:'#000040', width:1, type:'solid'}}]},
     markPoint:{silent:true, data:[box(lastHist, '-1.3056', '#000040', '#fff', false, 17, 20, 21)]}},
    {name:'Signal', type:'line', xAxisIndex:2, yAxisIndex:2, data:signal, showSymbol:false, lineStyle:{color:'#004000', width:2},
     markPoint:{silent:true, data:[box(lastSignal, '0.4675', '#004000', '#fff', false, 17, -17, 21)]}},
    {name:'MACD', type:'line', xAxisIndex:2, yAxisIndex:2, data:macd, showSymbol:false, lineStyle:{color:'#ff0000', width:2},
     markPoint:{silent:true, data:[box(lastMacd, '-0.8381', '#ff0000', '#000', true, 17, 0, 21)]}},
    {name:'StochD', type:'line', xAxisIndex:3, yAxisIndex:3, data:stochD, showSymbol:false, clip:false, lineStyle:{color:'#000080', width:2},
     markLine:{symbol:'none', silent:true, label:{show:false}, data:[
       {yAxis:stochLevels[0], lineStyle:{color:'#400000', width:1, type:'solid'}},
       {yAxis:stochLevels[1], lineStyle:{color:'#400000', width:1, type:'solid'}}]},
     markPoint:{silent:true, data:[box(lastStochD, '28.412', '#000080', '#fff', false, 17, -19, 21)]}},
    {name:'StochK', type:'line', xAxisIndex:3, yAxisIndex:3, data:stochK, showSymbol:false, clip:false, lineStyle:{color:'#400000', width:2},
     markPoint:{silent:true, data:[box(lastStochK, '26.897', '#400000', '#fff', true, 17, 0, 21)]}}
  ],
  graphic:[
    {type:'line', shape:{x1:0,y1:1,x2:2857,y2:1}, style:{stroke:'#b0b0b0', lineWidth:2}, silent:true},
    {type:'line', shape:{x1:15.5,y1:35.5,x2:2761.5,y2:35.5}, style:{stroke:'#808080', lineWidth:1}, silent:true},
    {type:'line', shape:{x1:15.5,y1:35,x2:15.5,y2:1255}, style:{stroke:'#808080', lineWidth:1}, silent:true},
    {type:'line', shape:{x1:2761.5,y1:35,x2:2761.5,y2:1255}, style:{stroke:'#808080', lineWidth:1.5}, silent:true},
    {type:'line', shape:{x1:15,y1:678.5,x2:2857,y2:678.5}, style:{stroke:'#808080', lineWidth:1.5}, silent:true},
    {type:'line', shape:{x1:15,y1:940.5,x2:2857,y2:940.5}, style:{stroke:'#808080', lineWidth:1.5}, silent:true},
    {type:'line', shape:{x1:15,y1:1122.5,x2:2857,y2:1122.5}, style:{stroke:'#808080', lineWidth:1.5}, silent:true},
    {type:'line', shape:{x1:15,y1:1255.5,x2:2761.5,y2:1255.5}, style:{stroke:'#808080', lineWidth:1.5}, silent:true},
    {type:'line', shape:{x1:1,y1:0,x2:1,y2:1345}, style:{stroke:'#b0b0b0', lineWidth:2}, silent:true},
    {type:'line', shape:{x1:0,y1:1343.5,x2:2857,y2:1343.5}, style:{stroke:'#d8d8d8', lineWidth:2}, silent:true},
    {type:'text', x:2766, y:57, style:{text:'Price', font:'bold 15px '+BOLDF, fill:'#000'}, silent:true},
    {type:'text', x:2766, y:79, style:{text:'USD', font:'bold 15px '+BOLDF, fill:'#000'}, silent:true},
    {type:'text', x:2766, y:102, style:{text:'Ozs', font:'bold 15px '+BOLDF, fill:'#000'}, silent:true},
    {type:'rect', shape:{x:2768.5,y:659.5,width:41,height:18}, style:{fill:'#fff', stroke:'#000', lineWidth:1}, silent:true},
    {type:'text', x:2771, y:661, style:{text:'Auto', font:'bold 14px '+BOLDF, fill:'#000'}, silent:true},
    {type:'text', x:2766, y:700, style:{text:'Value', font:'bold 15px '+BOLDF, fill:'#c8c8c8'}, silent:true},
    {type:'text', x:2766, y:723, style:{text:'USD', font:'bold 15px '+BOLDF, fill:'#c8c8c8'}, silent:true},
    {type:'text', x:2766, y:746, style:{text:'Ozs', font:'bold 15px '+BOLDF, fill:'#c8c8c8'}, silent:true},
    {type:'rect', shape:{x:2768.5,y:921.5,width:41,height:18}, style:{fill:'#fff', stroke:'#c8c8c8', lineWidth:1}, silent:true},
    {type:'text', x:2771, y:923, style:{text:'Auto', font:'bold 14px '+BOLDF, fill:'#c8c8c8'}, silent:true},
    {type:'text', x:2766, y:962, style:{text:'Value', font:'bold 15px '+BOLDF, fill:'#c8c8c8'}, silent:true},
    {type:'text', x:2766, y:985, style:{text:'USD', font:'bold 15px '+BOLDF, fill:'#c8c8c8'}, silent:true},
    {type:'rect', shape:{x:2768.5,y:1101.5,width:41,height:18}, style:{fill:'#fff', stroke:'#c8c8c8', lineWidth:1}, silent:true},
    {type:'text', x:2771, y:1103, style:{text:'Auto', font:'bold 14px '+BOLDF, fill:'#c8c8c8'}, silent:true},
    {type:'text', x:2766, y:1142, style:{text:'Value', font:'bold 15px '+BOLDF, fill:'#c8c8c8'}, silent:true},
    {type:'text', x:2766, y:1164, style:{text:'USD', font:'bold 15px '+BOLDF, fill:'#c8c8c8'}, silent:true},
    {type:'rect', shape:{x:2768.5,y:1236.5,width:41,height:18}, style:{fill:'#fff', stroke:'#c8c8c8', lineWidth:1}, silent:true},
    {type:'text', x:2771, y:1238, style:{text:'Auto', font:'bold 14px '+BOLDF, fill:'#c8c8c8'}, silent:true}
  ]
};
const chart = echarts.init(document.getElementById('c'));
chart.setOption(option);
</script></body></html>
